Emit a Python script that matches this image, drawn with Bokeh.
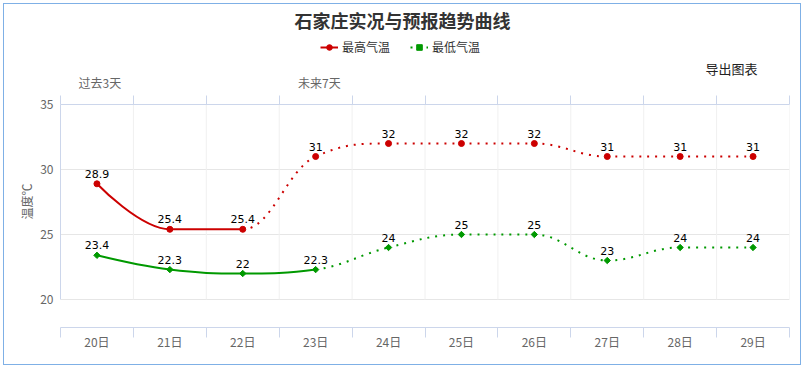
import numpy as np
from bokeh.plotting import figure
from bokeh.layouts import column
from bokeh.models import FixedTicker, Label, Legend, LegendItem, Title, Range1d, LinearAxis
from bokeh.core.properties import value
from bokeh.embed import file_html
from bokeh.resources import INLINE

# ---------------- data ----------------
title_text = "石家庄实况与预报趋势曲线"
days = ["20日", "21日", "22日", "23日", "24日", "25日", "26日", "27日", "28日", "29日"]
high = [28.9, 25.4, 25.4, 31, 32, 32, 32, 31, 31, 31]
low = [23.4, 22.3, 22, 22.3, 24, 25, 25, 23, 24, 24]
high_obs_end = 2   # index of last observed (solid) point, max temp
low_obs_end = 3    # index of last observed (solid) point, min temp
y_ticks = [20, 25, 30, 35]
series_names = ["最高气温", "最低气温"]
period_labels = ["过去3天", "未来7天"]
period_pos = [0.04, 3.05]
y_title = "温度℃"
export_text = "导出图表"

CJK = "Noto Sans CJK SC"
RED = "#cc0000"
GREEN = "#009900"

# ---------------- geometry (page pixels) ----------------
CX0, CX1 = 4, 800          # content area inside the 1px border
CY0, CY1 = 4, 364
FL, FR, FT, FB = 60, 789, 104, 327   # chart frame
TICK = 9                   # top tick length
SPLIT = FT - TICK          # header / chart boundary
W = CX1 - CX0

X0, X1 = -0.5, len(days) - 0.5
Y1 = 35
Y0 = Y1 - (FB - FT) / 13.0
xr = Range1d(X0, X1)

def dx(px):
    return X0 + (px - FL) / (FR - FL) * (X1 - X0)

xs = list(range(len(days)))
bounds = [i - 0.5 for i in range(len(days) + 1)]

# ---------------- header figure (title, legend, period labels) ----------------
h = figure(width=W, height=SPLIT - CY0, x_range=xr, y_range=(SPLIT, CY0),
           output_backend="svg", toolbar_location=None,
           x_axis_location=None, y_axis_location=None,
           min_border_left=FL - CX0, min_border_right=CX1 - FR,
           min_border_top=0, min_border_bottom=0)
h.grid.visible = False
h.outline_line_color = None
h.background_fill_color = "white"
h.border_fill_color = "white"

h.add_layout(Label(x=dx(402), y=19, text=title_text, text_align="center",
                   text_baseline="middle", text_font=CJK, text_font_size="18px",
                   text_font_style="bold", text_color="#333333"))
h.add_layout(Label(x=dx(731), y=68, text=export_text, text_align="center",
                   text_baseline="middle", text_font=CJK, text_font_size="13px",
                   text_color="#222222"))
for t, pos in zip(period_labels, period_pos):
    h.add_layout(Label(x=pos, y=82, text=t, text_align="center",
                       text_baseline="middle", text_font=CJK, text_font_size="12px",
                       text_color="#666666"))

hi_leg_line = h.line([-100, -99], [0, 0], line_color=RED, line_width=2)
hi_leg_pt = h.scatter([-100], [0], marker="circle", size=6, fill_color=RED, line_color=RED)
lo_leg_line = h.line([-100, -99], [0, 0], line_color=GREEN, line_width=2, line_dash="2 6")
lo_leg_pt = h.scatter([-100], [0], marker="square", angle=np.pi / 4, size=4.5,
                      fill_color=GREEN, line_color=GREEN)
legend = Legend(items=[LegendItem(label=series_names[0], renderers=[hi_leg_line, hi_leg_pt]),
                       LegendItem(label=series_names[1], renderers=[lo_leg_line, lo_leg_pt])],
                location=(320 - FL, SPLIT - 55), orientation="horizontal",
                padding=0, margin=0, spacing=20, glyph_width=18, glyph_height=14,
                label_height=14, label_standoff=4, border_line_color=None,
                background_fill_alpha=0, label_text_font=CJK,
                label_text_font_size="12px", label_text_color="#333333")
h.add_layout(legend)

# ---------------- main chart ----------------
p = figure(width=W, height=CY1 - SPLIT, x_range=xr, y_range=(Y0, Y1),
           output_backend="svg", toolbar_location=None,
           min_border_left=FL - CX0, min_border_right=CX1 - FR,
           min_border_top=TICK, min_border_bottom=CY1 - FB)
p.outline_line_color = None
p.background_fill_color = "white"
p.border_fill_color = "white"

# bottom axis
p.xaxis.ticker = FixedTicker(ticks=xs, minor_ticks=bounds)
p.xaxis.major_label_overrides = {i: d for i, d in enumerate(days)}
p.xaxis.major_tick_out = 0
p.xaxis.major_tick_in = 0
p.xaxis.minor_tick_out = 10
p.xaxis.minor_tick_in = 0
p.xaxis.minor_tick_line_color = "#ccd6eb"
p.xaxis.axis_line_color = "#ccd6eb"
p.xaxis.major_label_standoff = -5
p.xaxis.major_label_text_font = CJK
p.xaxis.major_label_text_font_size = "12px"
p.xaxis.major_label_text_color = "#666666"

# top axis: boundary ticks only
top = LinearAxis(ticker=FixedTicker(ticks=[], minor_ticks=bounds),
                 major_tick_out=0, major_tick_in=0, minor_tick_out=TICK, minor_tick_in=0,
                 minor_tick_line_color="#ccd6eb", axis_line_color="#ccd6eb",
                 major_label_standoff=0)
p.add_layout(top, "above")

# left axis
p.yaxis.ticker = FixedTicker(ticks=y_ticks)
p.yaxis.bounds = (y_ticks[0], y_ticks[-1])
p.yaxis.major_tick_out = 0
p.yaxis.major_tick_in = 0
p.yaxis.minor_tick_line_color = None
p.yaxis.axis_line_color = "#ccd6eb"
p.yaxis.major_label_standoff = 7
p.yaxis.major_label_text_font = CJK
p.yaxis.major_label_text_font_size = "12px"
p.yaxis.major_label_text_color = "#666666"

p.add_layout(Title(text=y_title, align="left", offset=108, standoff=6,
                   text_font=CJK, text_font_size="12px", text_font_style="normal",
                   text_color="#666666"), "left")

p.xgrid.visible = False
p.ygrid.ticker = FixedTicker(ticks=y_ticks[:-1])
p.ygrid.grid_line_color = "#e6e6e6"

# vertical grid lines over the plotting band
p.segment(x0=bounds[1:], y0=[y_ticks[0]] * len(bounds[1:]),
          x1=bounds[1:], y1=[y_ticks[-1]] * len(bounds[1:]),
          line_color="#f0f0f0", line_width=1)

# ---------------- spline (Highcharts-style) ----------------
def spline_segments(xv, yv, smoothing=1.5):
    n = len(xv)
    left = [(xv[i], yv[i]) for i in range(n)]
    right = [(xv[i], yv[i]) for i in range(n)]
    d = smoothing + 1
    for i in range(1, n - 1):
        px, py = xv[i], yv[i]
        lx, ly = xv[i - 1], yv[i - 1]
        nx, ny = xv[i + 1], yv[i + 1]
        lcx = (smoothing * px + lx) / d
        lcy = (smoothing * py + ly) / d
        rcx = (smoothing * px + nx) / d
        rcy = (smoothing * py + ny) / d
        if rcx != lcx:
            corr = ((rcy - lcy) * (rcx - px)) / (rcx - lcx) + py - rcy
            lcy += corr
            rcy += corr
        if lcy > ly and lcy > py:
            lcy = max(ly, py); rcy = 2 * py - lcy
        elif lcy < ly and lcy < py:
            lcy = min(ly, py); rcy = 2 * py - lcy
        if rcy > ny and rcy > py:
            rcy = max(ny, py); lcy = 2 * py - rcy
        elif rcy < ny and rcy < py:
            rcy = min(ny, py); lcy = 2 * py - rcy
        left[i] = (lcx, lcy)
        right[i] = (rcx, rcy)
    segs = []
    for i in range(n - 1):
        segs.append(dict(x0=xv[i], y0=yv[i], x1=xv[i + 1], y1=yv[i + 1],
                         cx0=right[i][0], cy0=right[i][1],
                         cx1=left[i + 1][0], cy1=left[i + 1][1]))
    return segs

def draw_series(vals, obs_end, color):
    segs = spline_segments(xs, vals)
    for group, dash in ((segs[:obs_end], "solid"), (segs[obs_end:], "2 6")):
        if not group:
            continue
        p.bezier(x0=[s["x0"] for s in group], y0=[s["y0"] for s in group],
                 x1=[s["x1"] for s in group], y1=[s["y1"] for s in group],
                 cx0=[s["cx0"] for s in group], cy0=[s["cy0"] for s in group],
                 cx1=[s["cx1"] for s in group], cy1=[s["cy1"] for s in group],
                 line_color=color, line_width=2, line_dash=dash)

draw_series(high, high_obs_end, RED)
draw_series(low, low_obs_end, GREEN)

p.scatter(xs, high, marker="circle", size=6, fill_color=RED, line_color=RED)
p.scatter(xs, low, marker="square", angle=np.pi / 4, size=4.5,
          fill_color=GREEN, line_color=GREEN)

lbl_kw = dict(text_font=value("DejaVu Sans"), text_font_size="11px", text_color="#000000",
              text_align="center", text_baseline="alphabetic", y_offset=-10)
p.text(xs, high, text=[f"{v:g}" for v in high], **lbl_kw)
p.text(xs, low, text=[f"{v:g}" for v in low], **lbl_kw)

layout = column(h, p, spacing=0,
                styles={"border": "1px solid #7fb0e6", "margin-left": "3px", "margin-top": "3px"})

open("out.html", "w").write(file_html(layout, INLINE))
